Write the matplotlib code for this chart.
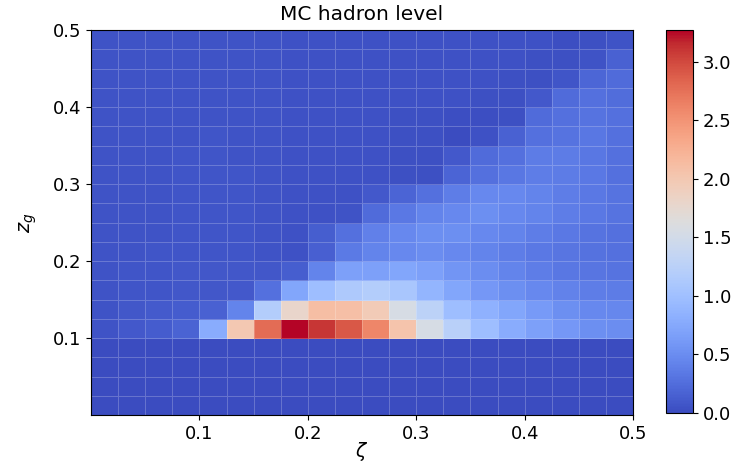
import numpy as np
import matplotlib
matplotlib.use("Agg")
import matplotlib.pyplot as plt

# Bin edges (zeta on x, z_g on y)
zeta_edges = np.linspace(0.0, 0.5, 21)
zg_edges = np.linspace(0.0, 0.5, 21)

# Normalised density per (z_g bin, zeta bin); first row is the lowest z_g bin
density = [
    [0.005, 0.005, 0.005, 0.005, 0.005, 0.005, 0.005, 0.005, 0.005, 0.005, 0.005, 0.005, 0.005, 0.005, 0.005, 0.005, 0.005, 0.005, 0.005, 0.005],
    [0.005, 0.005, 0.005, 0.005, 0.005, 0.005, 0.005, 0.005, 0.005, 0.005, 0.005, 0.005, 0.005, 0.005, 0.005, 0.005, 0.005, 0.005, 0.005, 0.005],
    [0.005, 0.005, 0.005, 0.005, 0.005, 0.005, 0.005, 0.005, 0.005, 0.005, 0.005, 0.005, 0.005, 0.005, 0.005, 0.005, 0.005, 0.005, 0.005, 0.005],
    [0.005, 0.005, 0.005, 0.005, 0.005, 0.005, 0.005, 0.005, 0.005, 0.005, 0.005, 0.005, 0.005, 0.005, 0.005, 0.005, 0.005, 0.005, 0.005, 0.005],
    [0.06, 0.09, 0.12, 0.17, 0.78, 2.00, 2.78, 3.27, 3.10, 2.90, 2.60, 2.05, 1.55, 1.23, 0.98, 0.79, 0.67, 0.60, 0.52, 0.50],
    [0.06, 0.08, 0.11, 0.12, 0.16, 0.43, 1.18, 1.80, 2.12, 2.10, 1.96, 1.55, 1.27, 0.98, 0.84, 0.72, 0.62, 0.52, 0.47, 0.45],
    [0.06, 0.07, 0.07, 0.08, 0.08, 0.09, 0.28, 0.72, 0.98, 1.13, 1.18, 1.08, 0.87, 0.72, 0.60, 0.52, 0.46, 0.42, 0.38, 0.37],
    [0.06, 0.07, 0.07, 0.08, 0.08, 0.08, 0.08, 0.14, 0.43, 0.67, 0.67, 0.72, 0.67, 0.57, 0.50, 0.43, 0.38, 0.33, 0.31, 0.30],
    [0.06, 0.06, 0.07, 0.07, 0.07, 0.07, 0.06, 0.04, 0.15, 0.35, 0.43, 0.47, 0.50, 0.47, 0.43, 0.38, 0.34, 0.31, 0.29, 0.27],
    [0.06, 0.06, 0.06, 0.07, 0.07, 0.07, 0.06, 0.05, 0.13, 0.28, 0.40, 0.47, 0.52, 0.52, 0.47, 0.43, 0.38, 0.34, 0.30, 0.28],
    [0.06, 0.06, 0.06, 0.07, 0.07, 0.07, 0.06, 0.05, 0.05, 0.06, 0.24, 0.34, 0.43, 0.47, 0.52, 0.47, 0.43, 0.38, 0.34, 0.30],
    [0.06, 0.06, 0.06, 0.07, 0.07, 0.07, 0.06, 0.05, 0.05, 0.05, 0.09, 0.19, 0.28, 0.38, 0.47, 0.47, 0.43, 0.38, 0.34, 0.30],
    [0.06, 0.06, 0.06, 0.07, 0.07, 0.07, 0.06, 0.05, 0.05, 0.05, 0.04, 0.03, 0.03, 0.18, 0.28, 0.32, 0.38, 0.36, 0.34, 0.28],
    [0.06, 0.06, 0.06, 0.07, 0.07, 0.06, 0.06, 0.05, 0.05, 0.05, 0.04, 0.03, 0.03, 0.10, 0.23, 0.28, 0.36, 0.36, 0.32, 0.28],
    [0.06, 0.06, 0.06, 0.06, 0.07, 0.06, 0.06, 0.05, 0.05, 0.04, 0.04, 0.03, 0.03, 0.01, 0.05, 0.16, 0.28, 0.30, 0.32, 0.28],
    [0.06, 0.06, 0.06, 0.06, 0.06, 0.06, 0.06, 0.05, 0.05, 0.04, 0.04, 0.03, 0.03, 0.02, 0.02, 0.03, 0.23, 0.28, 0.30, 0.28],
    [0.06, 0.06, 0.06, 0.06, 0.06, 0.06, 0.06, 0.05, 0.05, 0.04, 0.04, 0.04, 0.04, 0.04, 0.03, 0.03, 0.10, 0.23, 0.28, 0.25],
    [0.06, 0.06, 0.06, 0.06, 0.06, 0.06, 0.06, 0.05, 0.05, 0.04, 0.04, 0.04, 0.04, 0.04, 0.04, 0.03, 0.03, 0.07, 0.20, 0.23],
    [0.06, 0.06, 0.06, 0.06, 0.06, 0.06, 0.06, 0.05, 0.05, 0.04, 0.04, 0.04, 0.04, 0.04, 0.04, 0.04, 0.03, 0.03, 0.06, 0.16],
    [0.06, 0.06, 0.06, 0.06, 0.06, 0.06, 0.06, 0.05, 0.05, 0.04, 0.04, 0.04, 0.04, 0.04, 0.04, 0.04, 0.04, 0.02, 0.03, 0.06],
]

tick_values = [0.1, 0.2, 0.3, 0.4, 0.5]
cbar_ticks = [0.0, 0.5, 1.0, 1.5, 2.0, 2.5, 3.0]

plt.rcParams["font.family"] = ["DejaVu Sans"]
plt.rcParams["font.size"] = 13

fig = plt.figure(figsize=(7.43, 4.62), dpi=100)
ax = fig.add_axes([0.1225, 0.1017, 0.7295, 0.8333])
cax = fig.add_axes([0.8965, 0.106, 0.0365, 0.829])

values = np.array(density)
mesh = ax.pcolormesh(zeta_edges, zg_edges, values, cmap="coolwarm",
                     vmin=0.0, vmax=values.max(),
                     edgecolors=(1, 1, 1, 0.22), linewidth=0.6)

ax.set_xlim(0.0, 0.5)
ax.set_ylim(0.0, 0.5)
ax.set_xticks(tick_values)
ax.set_yticks(tick_values)
ax.set_xticklabels([f"{v:.1f}" for v in tick_values])
ax.set_yticklabels([f"{v:.1f}" for v in tick_values])
ax.tick_params(labelsize=13)
ax.set_xlabel(r"$\zeta$", fontsize=13.5, labelpad=-2)
ax.set_ylabel(r"$z_g$", fontsize=14, labelpad=10)
ax.set_title("MC hadron level", fontsize=14.5, pad=7.5)

cbar = fig.colorbar(mesh, cax=cax, ticks=cbar_ticks)
cbar.ax.set_yticklabels([f"{v:.1f}" for v in cbar_ticks])
cbar.ax.tick_params(labelsize=13)

fig.savefig("out.png", dpi=100)
